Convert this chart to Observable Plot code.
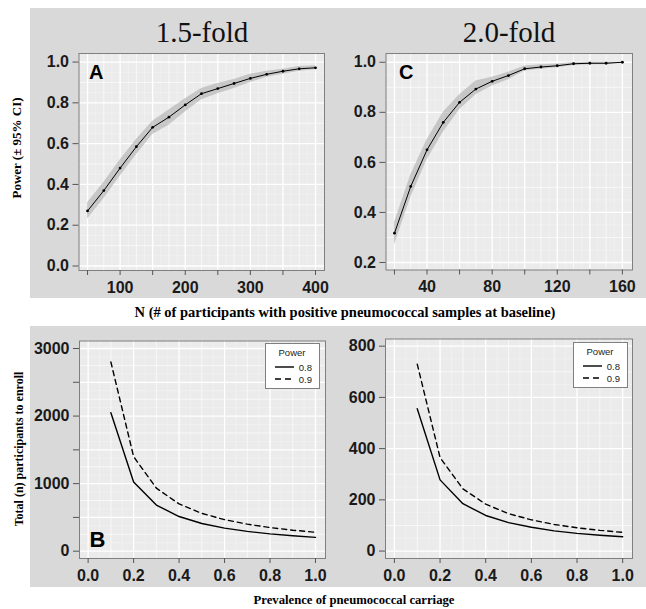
<!DOCTYPE html>
<html><head><meta charset="utf-8">
<script src="https://cdn.jsdelivr.net/npm/d3@7"></script>
<script src="https://cdn.jsdelivr.net/npm/@observablehq/plot@0.6"></script>
<style>
body{margin:0;background:#fff;}
#fig{position:relative;width:646px;height:609px;overflow:hidden;}
</style></head>
<body><div id="fig"></div>
<script>
// ---------- data ----------
const nA = [50,75,100,125,150,175,200,225,250,275,300,325,350,375,400];
const powerA = [0.27,0.37,0.48,0.585,0.68,0.73,0.79,0.845,0.87,0.895,0.92,0.94,0.955,0.967,0.972];
const loA = [0.23,0.33,0.44,0.545,0.645,0.69,0.755,0.815,0.845,0.87,0.9,0.925,0.94,0.955,0.962];
const hiA = [0.31,0.41,0.52,0.62,0.71,0.765,0.82,0.87,0.895,0.915,0.94,0.955,0.965,0.978,0.982];

const nC = [20,30,40,50,60,70,80,90,100,110,120,130,140,150,160];
const powerC = [0.317,0.504,0.65,0.76,0.84,0.893,0.924,0.947,0.974,0.981,0.986,0.994,0.996,0.996,1.0];
const loC = [0.27,0.46,0.61,0.72,0.81,0.87,0.905,0.93,0.965,0.972,0.978,0.987,0.99,0.99,0.998];
const hiC = [0.36,0.55,0.69,0.80,0.87,0.925,0.94,0.96,0.985,0.99,0.993,0.999,1.0,1.0,1.0];

const prevalence = [0.1,0.2,0.3,0.4,0.5,0.6,0.7,0.8,0.9,1.0];
const enrollB80 = [2050,1025,683,513,410,342,293,256,228,205];
const enrollB90 = [2800,1400,933,700,560,467,400,350,311,280];
const enrollD80 = [556,278,185,139,111,93,79,69,62,56];
const enrollD90 = [730,365,243,183,146,122,104,91,81,73];

// ticks
const xTicksA = [50,100,150,200,250,300,350,400];
const xLabelsA = [100,200,300,400];
const yTicksA = [0,0.2,0.4,0.6,0.8,1.0];
const xTicksC = [20,40,60,80,100,120,140,160];
const xLabelsC = [40,80,120,160];
const yTicksC = [0.2,0.4,0.6,0.8,1.0];
const xTicksB = [0,0.2,0.4,0.6,0.8,1.0];
const yTicksB = [0,500,1000,1500,2000,2500,3000];
const yLabelsB = [0,1000,2000,3000];
const yTicksD = [0,200,400,600,800];

const titles = ["1.5-fold","2.0-fold"];
const panelLetters = ["A","C","B"];
const legendTitle = "Power";
const legendLabels = ["0.8","0.9"];

// ---------- tables ----------
const tA = nA.map((n,i)=>({n, p: powerA[i], lo: loA[i], hi: hiA[i]}));
const tC = nC.map((n,i)=>({n, p: powerC[i], lo: loC[i], hi: hiC[i]}));
const tB = prevalence.map((v,i)=>({v, a: enrollB80[i], b: enrollB90[i]}));
const tD = prevalence.map((v,i)=>({v, a: enrollD80[i], b: enrollD90[i]}));

const fig = document.getElementById("fig");
const NS = "http://www.w3.org/2000/svg";
function el(tag, attrs, parent, txt){const e=document.createElementNS(NS,tag);for(const k in attrs)e.setAttribute(k,attrs[k]);if(txt!=null)e.textContent=txt;if(parent)parent.appendChild(e);return e;}

const base = el("svg",{width:646,height:609,style:"position:absolute;left:0;top:0"});
fig.appendChild(base);
el("rect",{x:30,y:8,width:616,height:290,fill:"#d9d9d9"},base);
el("rect",{x:30,y:326,width:616,height:261,fill:"#d9d9d9"},base);

const f1 = d3.format(".1f");
const SANS = "'Liberation Sans', Arial, Helvetica, sans-serif";

function grid(xs, ys, w, op){
  return [
    Plot.ruleX(xs,{stroke:"#fff",strokeWidth:w,strokeOpacity:op}),
    Plot.ruleY(ys,{stroke:"#fff",strokeWidth:w,strokeOpacity:op})
  ];
}
function mids(t){const r=[];for(let i=0;i<t.length-1;i++)r.push((t[i]+t[i+1])/2);return r;}

function panel({box, frame, xd, yd, xt, yt, xfmt, yfmt, gx, gy, marks, letter}){
  const xm = mids(gx), ym = mids(gy);
  const xq = mids([...gx,...xm].sort((a,b)=>a-b)), yq = mids([...gy,...ym].sort((a,b)=>a-b));
  const p = Plot.plot({
    width: box.w, height: box.h,
    marginLeft: frame.l-box.l, marginRight: box.l+box.w-frame.r,
    marginTop: frame.t-box.t, marginBottom: box.t+box.h-frame.b,
    x:{domain:xd}, y:{domain:yd},
    style:{background:"transparent",fontFamily:SANS,fontWeight:"bold",overflow:"visible"},
    marks:[
      Plot.frame({fill:"#ebebeb"}),
      ...grid(xq,yq,0.6,0.45),
      ...grid(xm,ym,0.8,0.8),
      ...grid(gx,gy,1.3,1),
      ...marks,
      Plot.frame({stroke:"#7f7f7f",strokeWidth:1}),
      Plot.axisX({ticks:xt,tickFormat:xfmt,tickSize:5,tickPadding:6,fontSize:16,fontWeight:"bold",stroke:"#555",fill:"#1a1a1a",label:null}),
      Plot.axisY({ticks:yt,tickFormat:yfmt,tickSize:6,tickPadding:4,fontSize:16,fontWeight:"bold",stroke:"#555",fill:"#1a1a1a",label:null}),
      ...(letter?[Plot.text([letter.t],{text:d=>d,frameAnchor:"top-left",textAnchor:"start",lineAnchor:"top",dx:letter.dx,dy:letter.dy,fontSize:letter.s,fontWeight:"bold",fill:"#000"})]:[])
    ]
  });
  p.style.position="absolute"; p.style.left=box.l+"px"; p.style.top=box.t+"px";
  fig.appendChild(p);
}

// Panel A
panel({
  box:{l:30,t:8,w:300,h:290}, frame:{l:78.5,t:53,r:324,b:270},
  xd:[36.9,413.8], yd:[-0.022,1.042],
  xt:xTicksA, yt:yTicksA,
  xfmt:d=>xLabelsA.includes(d)?String(d):"", yfmt:f1,
  gx:xTicksA, gy:yTicksA,
  marks:[
    Plot.areaY(tA,{x:"n",y1:"lo",y2:"hi",fill:"#a8a8a8",fillOpacity:0.55}),
    Plot.line(tA,{x:"n",y:"p",stroke:"#000",strokeWidth:1}),
    Plot.dot(tA,{x:"n",y:"p",r:1.4,fill:"#000"})
  ],
  letter:{t:panelLetters[0],dx:10,dy:11,s:20}
});
// Panel C
panel({
  box:{l:330,t:8,w:316,h:290}, frame:{l:385.5,t:53,r:632,b:269.5},
  xd:[14.8,166.2], yd:[0.17,1.035],
  xt:xTicksC, yt:yTicksC,
  xfmt:d=>xLabelsC.includes(d)?String(d):"", yfmt:f1,
  gx:xTicksC, gy:yTicksC,
  marks:[
    Plot.areaY(tC,{x:"n",y1:"lo",y2:"hi",fill:"#a8a8a8",fillOpacity:0.55}),
    Plot.line(tC,{x:"n",y:"p",stroke:"#000",strokeWidth:1}),
    Plot.dot(tC,{x:"n",y:"p",r:1.4,fill:"#000"})
  ],
  letter:{t:panelLetters[1],dx:13,dy:11,s:20}
});
// Panel B
panel({
  box:{l:30,t:326,w:300,h:261}, frame:{l:79,t:340.5,r:325,b:558},
  xd:[-0.038,1.044], yd:[-108,3111],
  xt:xTicksB, yt:yTicksB,
  xfmt:f1, yfmt:d=>yLabelsB.includes(d)?String(d):"",
  gx:xTicksB, gy:yTicksB,
  marks:[
    Plot.line(tB,{x:"v",y:"a",stroke:"#000",strokeWidth:1.4}),
    Plot.line(tB,{x:"v",y:"b",stroke:"#000",strokeWidth:1.4,strokeDasharray:"5,4"})
  ],
  letter:{t:panelLetters[2],dx:10,dy:190,s:22}
});
// Panel D
panel({
  box:{l:330,t:326,w:316,h:261}, frame:{l:385,t:338.5,r:632,b:558},
  xd:[-0.039,1.043], yd:[-29,828],
  xt:xTicksB, yt:yTicksD,
  xfmt:f1, yfmt:d=>String(d),
  gx:xTicksB, gy:yTicksD,
  marks:[
    Plot.line(tD,{x:"v",y:"a",stroke:"#000",strokeWidth:1.4}),
    Plot.line(tD,{x:"v",y:"b",stroke:"#000",strokeWidth:1.4,strokeDasharray:"5,4"})
  ]
});

// ---------- overlay text ----------
const ov = el("svg",{width:646,height:609,style:"position:absolute;left:0;top:0;pointer-events:none"});
fig.appendChild(ov);
const SERIF = "'Liberation Serif','Times New Roman',serif";
el("text",{x:202,y:42,"text-anchor":"middle","font-family":SERIF,"font-size":29,fill:"#111"},ov,titles[0]);
el("text",{x:509,y:42,"text-anchor":"middle","font-family":SERIF,"font-size":29,fill:"#111"},ov,titles[1]);
el("text",{x:21,y:148,"text-anchor":"middle","font-family":SERIF,"font-size":13,"font-weight":"bold",transform:"rotate(-90 21 148)"},ov,"Power (\u00b1 95% CI)");
el("text",{x:23,y:449,"text-anchor":"middle","font-family":SERIF,"font-size":12,"font-weight":"bold",transform:"rotate(-90 23 449)"},ov,"Total (n) participants to enroll");
el("text",{x:345,y:317,"text-anchor":"middle","font-family":SERIF,"font-size":14.5,"font-weight":"bold"},ov,"N (# of participants with positive pneumococcal samples at baseline)");
el("text",{x:354,y:604,"text-anchor":"middle","font-family":SERIF,"font-size":12.7,"font-weight":"bold"},ov,"Prevalence of pneumococcal carriage");

function legend(x,y){
  const w=54,h=45;
  el("rect",{x:x+0.5,y:y+0.5,width:w,height:h,fill:"#fff",stroke:"#7f7f7f"},ov);
  el("text",{x:x+w/2,y:y+13,"text-anchor":"middle","font-family":SANS,"font-size":9.5,fill:"#222"},ov,legendTitle);
  el("line",{x1:x+10,x2:x+29,y1:y+24,y2:y+24,stroke:"#000","stroke-width":1.4},ov);
  el("line",{x1:x+10,x2:x+29,y1:y+36,y2:y+36,stroke:"#000","stroke-width":1.4,"stroke-dasharray":"6,4"},ov);
  el("text",{x:x+w-7,y:y+27.5,"text-anchor":"end","font-family":SANS,"font-size":9.5,fill:"#222"},ov,legendLabels[0]);
  el("text",{x:x+w-7,y:y+39.5,"text-anchor":"end","font-family":SANS,"font-size":9.5,fill:"#222"},ov,legendLabels[1]);
}
legend(265,343);
legend(573,342);
</script>
</body></html>
